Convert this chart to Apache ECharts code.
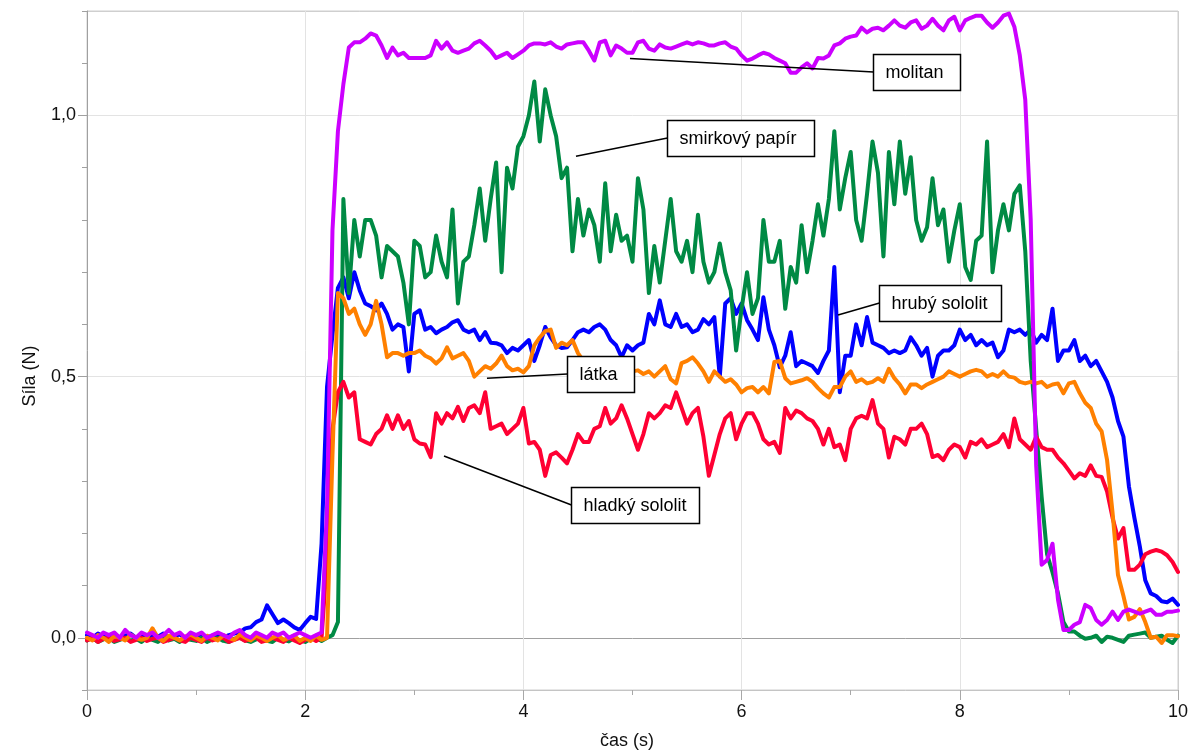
<!DOCTYPE html>
<html>
<head>
<meta charset="utf-8">
<script src="https://cdn.jsdelivr.net/npm/echarts@6/dist/echarts.min.js"></script>
<style>
html,body{margin:0;padding:0;background:#fff;}
#chart{width:1195px;height:754px;}
</style>
</head>
<body>
<div id="chart"></div>
<script>
// Sampling step of the measurement (s); every series has one value per step from 0 to 10 s
const TIME_STEP = 0.05;

const X_LABEL = 'čas (s)';
const Y_LABEL = 'Síla (N)';
const Y_LABEL_VALUES = [0, 0.5, 1.0];

const molitan = [
  0.01,0.005,0.0,0.01,0.005,0.01,0.0,0.015,0.005,0.0,
  0.01,0.005,0.01,0.0,0.005,0.015,0.005,0.01,0.0,0.01,
  0.005,0.01,0.0,0.005,0.01,0.005,0.0,0.01,0.015,0.005,
  0.0,0.01,0.005,0.0,0.01,0.005,0.01,0.0,0.005,0.01,
  0.005,0.0,0.005,0.01,0.25,0.78,0.97,1.06,1.13,1.14,
  1.14,1.147,1.157,1.153,1.134,1.11,1.13,1.115,1.12,1.11,
  1.11,1.11,1.11,1.115,1.143,1.128,1.14,1.124,1.12,1.124,
  1.128,1.138,1.143,1.134,1.124,1.11,1.115,1.12,1.11,1.117,
  1.124,1.134,1.138,1.138,1.136,1.14,1.132,1.128,1.136,1.138,
  1.14,1.14,1.124,1.105,1.14,1.143,1.115,1.134,1.128,1.12,
  1.12,1.14,1.143,1.128,1.124,1.136,1.13,1.128,1.132,1.136,
  1.14,1.136,1.14,1.138,1.134,1.134,1.138,1.14,1.132,1.128,
  1.115,1.105,1.109,1.115,1.12,1.117,1.11,1.105,1.10,1.082,
  1.082,1.092,1.10,1.09,1.11,1.109,1.115,1.134,1.138,1.147,
  1.151,1.153,1.168,1.159,1.166,1.168,1.163,1.172,1.182,1.172,
  1.168,1.178,1.182,1.166,1.172,1.185,1.172,1.163,1.182,1.189,
  1.163,1.182,1.187,1.191,1.191,1.178,1.168,1.178,1.191,1.195,
  1.17,1.115,1.03,0.80,0.33,0.14,0.149,0.18,0.073,0.015,
  0.015,0.025,0.03,0.063,0.057,0.034,0.025,0.034,0.05,0.034,
  0.05,0.054,0.05,0.046,0.05,0.054,0.044,0.044,0.05,0.05,
  0.052
];

const smirkovyPapir = [
  -0.005,0.0,-0.008,-0.003,0.0,-0.008,-0.004,0.0,-0.006,-0.002,
  -0.008,0.0,-0.004,-0.008,0.0,-0.005,-0.002,-0.008,0.0,-0.004,
  -0.006,0.0,-0.008,-0.003,0.0,-0.006,-0.008,-0.002,0.0,-0.005,
  -0.008,-0.003,0.0,-0.006,-0.008,0.0,-0.004,-0.007,0.0,-0.005,
  -0.008,-0.002,0.0,-0.006,0.0,0.005,0.03,0.84,0.66,0.80,
  0.73,0.80,0.80,0.77,0.69,0.75,0.74,0.73,0.68,0.60,
  0.76,0.75,0.69,0.70,0.77,0.72,0.69,0.82,0.64,0.72,
  0.73,0.79,0.86,0.76,0.84,0.91,0.70,0.90,0.86,0.94,
  0.96,1.00,1.065,0.95,1.05,1.0,0.96,0.88,0.90,0.74,
  0.84,0.77,0.82,0.79,0.72,0.87,0.74,0.81,0.76,0.77,
  0.72,0.88,0.82,0.66,0.75,0.68,0.76,0.84,0.74,0.72,
  0.76,0.70,0.81,0.72,0.68,0.70,0.755,0.70,0.665,0.55,
  0.63,0.70,0.62,0.65,0.80,0.72,0.72,0.76,0.63,0.71,
  0.68,0.79,0.70,0.76,0.83,0.77,0.84,0.97,0.82,0.88,
  0.93,0.80,0.76,0.85,0.95,0.89,0.73,0.93,0.83,0.95,
  0.85,0.92,0.80,0.76,0.786,0.88,0.79,0.82,0.72,0.78,
  0.83,0.71,0.685,0.76,0.77,0.95,0.70,0.78,0.83,0.78,
  0.85,0.866,0.74,0.53,0.40,0.27,0.16,0.125,0.085,0.03,
  0.012,0.012,0.004,-0.002,0.0,0.004,-0.008,0.002,0.0,-0.004,
  -0.008,0.004,0.006,0.008,0.01,0.0,0.002,0.004,-0.004,-0.01,
  0.004
];

const hrubySololit = [
  0.005,0.0,0.008,0.002,0.0,0.006,0.0,0.004,0.008,0.0,
  0.004,0.0,0.006,0.002,0.008,0.0,0.004,0.006,0.0,0.005,
  0.002,0.008,0.0,0.004,0.006,0.0,0.005,0.008,0.01,0.018,
  0.02,0.03,0.035,0.062,0.045,0.028,0.035,0.028,0.02,0.015,
  0.028,0.04,0.036,0.18,0.48,0.58,0.67,0.69,0.65,0.70,
  0.665,0.64,0.635,0.627,0.64,0.62,0.59,0.60,0.595,0.51,
  0.62,0.627,0.59,0.595,0.583,0.59,0.595,0.604,0.608,0.59,
  0.585,0.59,0.57,0.585,0.565,0.564,0.56,0.545,0.555,0.55,
  0.56,0.57,0.53,0.56,0.595,0.575,0.56,0.555,0.556,0.57,
  0.585,0.59,0.585,0.595,0.60,0.59,0.57,0.56,0.537,0.56,
  0.55,0.56,0.565,0.62,0.60,0.646,0.60,0.595,0.62,0.595,
  0.60,0.585,0.59,0.61,0.60,0.614,0.50,0.64,0.65,0.62,
  0.64,0.608,0.59,0.57,0.652,0.59,0.56,0.518,0.54,0.585,
  0.52,0.53,0.525,0.52,0.507,0.53,0.55,0.71,0.47,0.54,
  0.54,0.60,0.56,0.614,0.565,0.56,0.555,0.545,0.55,0.545,
  0.55,0.575,0.56,0.54,0.555,0.50,0.54,0.55,0.55,0.56,
  0.59,0.57,0.58,0.56,0.57,0.56,0.565,0.537,0.55,0.59,
  0.585,0.59,0.58,0.59,0.565,0.58,0.57,0.63,0.53,0.55,
  0.55,0.57,0.53,0.54,0.52,0.53,0.51,0.49,0.46,0.415,
  0.385,0.29,0.23,0.175,0.11,0.085,0.08,0.07,0.068,0.075,
  0.063
];

const latka = [
  0.0,-0.005,0.005,0.0,-0.008,0.004,0.0,-0.005,0.006,0.0,
  -0.004,0.0,0.018,0.0,-0.006,0.004,0.0,-0.005,0.002,0.006,
  0.0,-0.006,0.004,0.0,-0.005,0.005,0.0,-0.004,0.006,0.0,
  -0.005,0.004,0.0,-0.006,0.0,0.005,-0.004,0.0,0.004,-0.006,
  0.0,-0.006,0.004,-0.004,0.0,0.35,0.66,0.65,0.62,0.63,
  0.60,0.58,0.60,0.645,0.60,0.537,0.545,0.545,0.54,0.545,
  0.545,0.55,0.54,0.535,0.525,0.535,0.556,0.535,0.54,0.545,
  0.53,0.50,0.51,0.52,0.515,0.525,0.54,0.52,0.512,0.515,
  0.508,0.52,0.56,0.575,0.587,0.59,0.555,0.565,0.56,0.57,
  0.545,0.53,0.52,0.515,0.51,0.505,0.51,0.50,0.505,0.51,
  0.51,0.512,0.505,0.51,0.50,0.51,0.52,0.495,0.487,0.526,
  0.53,0.537,0.525,0.51,0.49,0.51,0.50,0.49,0.495,0.485,
  0.47,0.478,0.48,0.47,0.48,0.468,0.528,0.53,0.497,0.487,
  0.49,0.493,0.497,0.49,0.478,0.468,0.46,0.48,0.48,0.50,
  0.51,0.49,0.495,0.487,0.49,0.497,0.49,0.515,0.497,0.485,
  0.468,0.485,0.485,0.478,0.485,0.49,0.495,0.50,0.51,0.505,
  0.50,0.505,0.51,0.513,0.51,0.50,0.505,0.50,0.51,0.50,
  0.498,0.49,0.487,0.49,0.487,0.49,0.48,0.485,0.487,0.468,
  0.487,0.49,0.468,0.45,0.44,0.41,0.395,0.34,0.24,0.12,
  0.08,0.035,0.04,0.055,0.03,0.0,0.002,-0.01,0.005,0.005,
  0.003
];

const hladkySololit = [
  -0.005,0.0,-0.008,-0.002,0.0,-0.006,-0.003,0.0,-0.008,-0.004,
  0.0,-0.006,-0.002,0.0,-0.008,-0.004,0.0,-0.005,-0.008,0.0,
  -0.004,-0.008,0.0,-0.005,-0.002,0.0,-0.008,-0.004,0.0,-0.006,
  -0.002,0.0,-0.008,-0.005,0.0,-0.004,-0.008,0.0,-0.005,-0.01,
  -0.004,0.0,-0.006,0.0,0.15,0.40,0.47,0.49,0.46,0.47,
  0.38,0.375,0.37,0.39,0.40,0.426,0.40,0.426,0.40,0.415,
  0.38,0.372,0.37,0.346,0.43,0.41,0.43,0.42,0.442,0.415,
  0.44,0.445,0.43,0.47,0.40,0.405,0.41,0.39,0.40,0.41,
  0.44,0.372,0.375,0.36,0.31,0.35,0.355,0.345,0.334,0.36,
  0.39,0.375,0.375,0.40,0.405,0.44,0.41,0.42,0.445,0.42,
  0.39,0.36,0.39,0.43,0.42,0.43,0.445,0.44,0.47,0.44,
  0.41,0.43,0.44,0.385,0.31,0.35,0.39,0.42,0.43,0.38,
  0.41,0.43,0.43,0.41,0.38,0.37,0.375,0.354,0.44,0.42,
  0.435,0.43,0.42,0.415,0.40,0.37,0.40,0.365,0.37,0.34,
  0.40,0.42,0.425,0.42,0.455,0.41,0.40,0.345,0.385,0.38,
  0.37,0.40,0.40,0.41,0.39,0.346,0.35,0.34,0.36,0.37,
  0.365,0.345,0.375,0.37,0.38,0.365,0.37,0.375,0.39,0.365,
  0.42,0.38,0.37,0.36,0.385,0.365,0.36,0.36,0.345,0.334,
  0.32,0.305,0.315,0.31,0.33,0.31,0.308,0.28,0.23,0.19,
  0.21,0.13,0.13,0.14,0.16,0.165,0.168,0.165,0.158,0.145,
  0.126
];

// Series names and colours (drawing order: first is bottom)
const SERIES = [
  { name: 'hrubý sololit',  values: hrubySololit,  color: '#0000ff' },
  { name: 'smirkový papír', values: smirkovyPapir, color: '#008a44' },
  { name: 'hladký sololit', values: hladkySololit, color: '#ff0033' },
  { name: 'látka',          values: latka,         color: '#ff8000' },
  { name: 'molitan',        values: molitan,       color: '#cc00ff' }
];

// Callout labels: left-middle of the box and the point the leader line goes to, both in data units
const CALLOUT_TEXT   = ['molitan', 'smirkový papír', 'hrubý sololit', 'látka', 'hladký sololit'];
const CALLOUT_BOX    = [[7.204, 1.084], [5.316, 0.956], [7.259, 0.641], [4.400, 0.505], [4.436, 0.254]];
const CALLOUT_TARGET = [[4.977, 1.109], [4.482, 0.922], [6.884, 0.618], [3.666, 0.497], [3.272, 0.348]];
const CALLOUT_WIDTH  = [87, 147, 122, 67, 128];

const FONT = '"Liberation Sans", Arial, sans-serif';

function withTime(values) {
  return values.map((v, i) => [Math.round(i * TIME_STEP * 100) / 100, v]);
}

const chart = echarts.init(document.getElementById('chart'), null, { renderer: 'canvas' });

// colours for horizontal split lines at -0.1, 0.0, 0.1 ... 1.2
const T = 'rgba(0,0,0,0)';
const ySplitColors = [T, '#a0a0a0', T, T, T, T, '#e3e3e3', T, T, T, T, '#e3e3e3', T, '#cfcfcf'];
const xSplitColors = [T, '#e3e3e3', '#e3e3e3', '#e3e3e3', '#e3e3e3', '#cfcfcf'];

const fmt = v => v.toFixed(1).replace('.', ',');

chart.setOption({
  animation: false,
  backgroundColor: '#ffffff',
  grid: { left: 87, right: 17, top: 11, bottom: 64, show: true, borderColor: '#cfcfcf', borderWidth: 1 },
  xAxis: {
    type: 'value', min: 0, max: 10, interval: 2,
    axisLine: { show: true, onZero: false, lineStyle: { color: '#c4c4c4', width: 1 } },
    axisTick: { show: true, length: 10, lineStyle: { color: '#a8a8a8' } },
    minorTick: { show: true, splitNumber: 2, length: 5, lineStyle: { color: '#a8a8a8' } },
    axisLabel: { fontFamily: FONT, fontSize: 18, color: '#111', margin: 13 },
    splitLine: { show: true, lineStyle: { color: xSplitColors, width: 1 } }
  },
  yAxis: [
    {
      type: 'value', min: -0.1, max: 1.2, interval: 0.1,
      axisLine: { show: true, lineStyle: { color: '#a0a0a0', width: 1 } },
      axisTick: { show: true, length: 5, lineStyle: { color: '#a0a0a0' } },
      axisLabel: { show: false },
      splitLine: { show: true, lineStyle: { color: ySplitColors, width: 1 } }
    },
    {
      type: 'value', min: -0.1, max: 1.2, position: 'left',
      axisLine: { show: false },
      axisTick: { show: true, length: 9, customValues: Y_LABEL_VALUES, lineStyle: { color: '#a0a0a0' } },
      axisLabel: { show: true, customValues: Y_LABEL_VALUES, formatter: fmt, fontFamily: FONT, fontSize: 18, color: '#111', margin: 11 },
      splitLine: { show: false }
    }
  ],
  series: SERIES.map(s => ({
    name: s.name,
    type: 'line',
    yAxisIndex: 0,
    data: withTime(s.values),
    showSymbol: false,
    symbol: 'none',
    smooth: false,
    lineStyle: { color: s.color, width: 4, join: 'round', cap: 'round' },
    itemStyle: { color: s.color },
    emphasis: { disabled: true },
    silent: true
  }))
});

// axis titles and callouts (positioned through the chart's own coordinate conversion)
const graphics = [
  { type: 'text', x: 627, y: 741, z: 50,
    style: { text: X_LABEL, font: '18px ' + FONT, fill: '#111', align: 'center', verticalAlign: 'middle' } },
  { type: 'text', x: 30, y: 376, rotation: Math.PI / 2, z: 50,
    style: { text: Y_LABEL, font: '18px ' + FONT, fill: '#111', align: 'center', verticalAlign: 'middle' } }
];
const BOX_H = 36;
CALLOUT_TEXT.forEach((txt, i) => {
  const p = chart.convertToPixel({ gridIndex: 0 }, CALLOUT_BOX[i]);
  const q = chart.convertToPixel({ gridIndex: 0 }, CALLOUT_TARGET[i]);
  const bx = Math.round(p[0]) + 0.5, by = Math.round(p[1]);
  graphics.push({ type: 'line', z: 60,
    shape: { x1: bx, y1: by, x2: q[0], y2: q[1] },
    style: { stroke: '#000', lineWidth: 1.5 } });
  graphics.push({ type: 'rect', z: 61,
    shape: { x: bx, y: by - BOX_H / 2 + 0.5, width: CALLOUT_WIDTH[i], height: BOX_H },
    style: { fill: '#fff', stroke: '#000', lineWidth: 1.5 } });
  graphics.push({ type: 'text', z: 62,
    x: bx + 12, y: by + 1,
    style: { text: txt, font: '18px ' + FONT, fill: '#000', align: 'left', verticalAlign: 'middle' } });
});
chart.setOption({ graphic: graphics });
</script>
</body>
</html>
